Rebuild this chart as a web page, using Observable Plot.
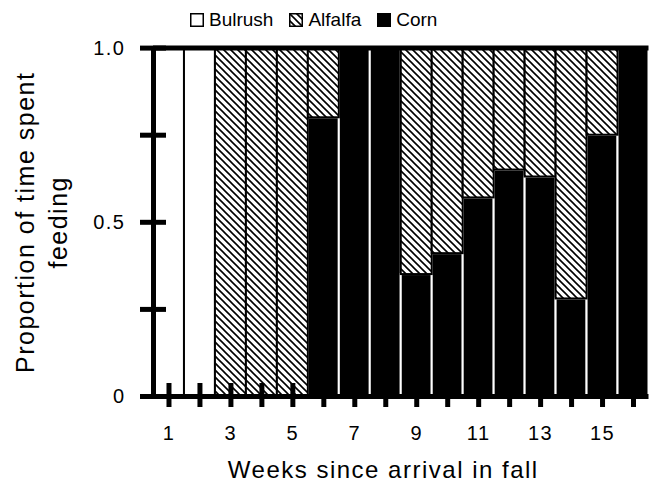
<!DOCTYPE html>
<html><head><meta charset="utf-8">
<script src="https://cdn.jsdelivr.net/npm/d3@7"></script>
<script src="https://cdn.jsdelivr.net/npm/@observablehq/plot@0.6"></script>
<style>
body{margin:0;background:#fff;font-family:"Liberation Sans",Arial,sans-serif;}
#wrap{position:relative;width:652px;height:487px;background:#fff;}
#legend{position:absolute;left:190px;top:6px;height:28px;display:flex;align-items:center;font-size:19px;color:#000;}
.item{display:flex;align-items:center;margin-right:16px;}
.item svg{margin-right:5px;display:block;}
#chart{position:absolute;left:0;top:36px;}
</style></head><body>
<div id="wrap"><div id="legend"></div><div id="chart"></div></div>
<script>
const weeks   = [1, 2, 3, 4, 5, 6, 7, 8, 9, 10, 11, 12, 13, 14, 15, 16];
const corn    = [0, 0, 0, 0, 0, 0.80, 1, 1, 0.35, 0.41, 0.57, 0.65, 0.63, 0.28, 0.75, 1];
const alfalfa = [0, 0, 1, 1, 1, 0.20, 0, 0, 0.65, 0.59, 0.43, 0.35, 0.37, 0.72, 0.25, 0];
const bulrush = [1, 1, 0, 0, 0, 0, 0, 0, 0, 0, 0, 0, 0, 0, 0, 0];
const categories = ["Bulrush", "Alfalfa", "Corn"];
const yTicks = [0, 0.25, 0.5, 0.75, 1];
const yTickLabels = ["0", "", "0.5", "", "1.0"];
const xTickLabels = ["1", "", "3", "", "5", "", "7", "", "9", "", "11", "", "13", "", "15", ""];
const xTitle = "Weeks since arrival in fall";
const yTitle = "Proportion of time spent\nfeeding";

const series = {Corn: corn, Alfalfa: alfalfa, Bulrush: bulrush};
const segs = [];
weeks.forEach((w, i) => {
  let base = 0;
  for (const k of ["Corn", "Alfalfa", "Bulrush"]) {
    const v = series[k][i];
    if (v > 0) segs.push({week: w, cat: k, y1: base, y2: base + v});
    base += v;
  }
});

const rectOpts = {x1: d => d.week - 0.5, x2: d => d.week + 0.5, y1: "y1", y2: "y2", inset: 0, strokeWidth: 2};
const fills = {Corn: "#000", Alfalfa: "url(#hatch)", Bulrush: "#fff"};
const strokes = {Corn: "#fff", Alfalfa: "#000", Bulrush: "#000"};

const svg = Plot.plot({
  width: 652,
  height: 451,
  marginLeft: 153,
  marginRight: 3.5,
  marginTop: 11.6,
  marginBottom: 91,
  style: "font-family:'Liberation Sans',Arial,sans-serif;letter-spacing:1.5px;background:#fff;overflow:visible;color:#000;",
  x: {domain: [weeks[0] - 0.5, weeks[weeks.length - 1] + 0.5], axis: null},
  y: {domain: [0, 1], axis: null},
  marks: [
    Plot.rect(segs.filter(d => d.cat === "Corn"), {...rectOpts, fill: fills.Corn, stroke: strokes.Corn}),
    Plot.rect(segs.filter(d => d.cat !== "Corn"), {...rectOpts, fill: d => fills[d.cat], stroke: "#000"}),
    Plot.ruleY([yTicks[0], yTicks[yTicks.length - 1]], {x1: weeks[0] - 0.5, x2: weeks[weeks.length - 1] + 0.5, strokeWidth: 5, stroke: "#000"}),
    Plot.ruleX([weeks[0] - 0.5], {y1: yTicks[0], y2: yTicks[yTicks.length - 1], strokeWidth: 5, stroke: "#000"}),
    Plot.axisY(yTicks, {tickSize: 26, dx: 13, tickFormat: () => "", strokeWidth: 5, stroke: "#000"}),
    Plot.axisY(yTicks, {tickSize: 0, tickPadding: 28, fontSize: 20, fill: "#000", tickFormat: d => yTickLabels[yTicks.indexOf(d)]}),
    Plot.axisX(weeks, {tickSize: 24, dy: -13, tickFormat: () => "", strokeWidth: 5, stroke: "#000"}),
    Plot.axisX(weeks, {tickSize: 0, tickPadding: 29, fontSize: 20, fill: "#000", tickFormat: d => xTickLabels[weeks.indexOf(d)]}),
    Plot.text([xTitle], {frameAnchor: "bottom", dy: 74, dx: -18, fontSize: 24, lineAnchor: "middle", fill: "#000"}),
    Plot.text([yTitle], {frameAnchor: "left", dx: -114, rotate: -90, fontSize: 25, lineHeight: 33 / 25, lineAnchor: "middle", textAnchor: "middle", fill: "#000", className: "ytitle"})
  ]
});

const patternHTML = id => `<pattern id="${id}" width="7" height="7" patternUnits="userSpaceOnUse"><rect width="7" height="7" fill="#fff"/><path d="M-1,-1L8,8M-1,6L1,8M6,-1L8,1" stroke="#000" stroke-width="1.6"/></pattern>`;
d3.select(svg).insert("defs", ":first-child").html(patternHTML("hatch"));
d3.select(svg).selectAll(".ytitle text").style("letter-spacing", "1.5px");
document.getElementById("chart").appendChild(svg);

// legend
const legend = d3.select("#legend");
categories.forEach((c, i) => {
  const item = legend.append("div").attr("class", "item");
  const sw = item.append("svg").attr("width", 14).attr("height", 14);
  if (c === "Alfalfa") sw.append("defs").html(patternHTML("hatchLegend"));
  sw.append("rect").attr("x", 0.75).attr("y", 0.75).attr("width", 12.5).attr("height", 12.5)
    .attr("fill", c === "Alfalfa" ? "url(#hatchLegend)" : fills[c])
    .attr("stroke", "#000").attr("stroke-width", 1.5);
  item.append("span").text(c);
});
</script>
</body></html>
